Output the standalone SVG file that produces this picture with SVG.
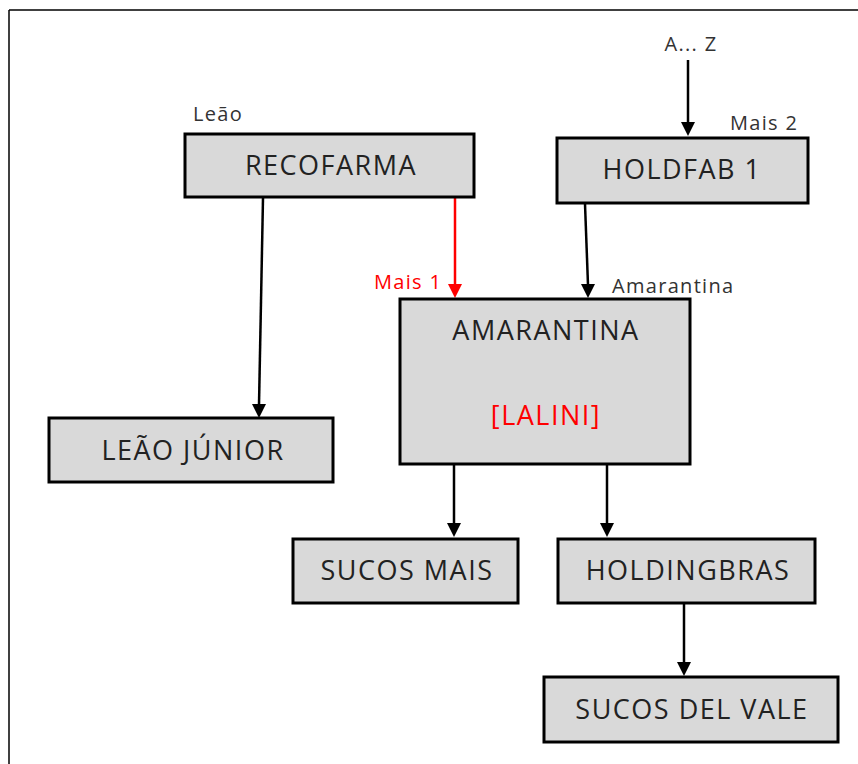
<svg xmlns="http://www.w3.org/2000/svg" width="858" height="764" viewBox="0 0 858 764">
<style>
.box{fill:#d9d9d9;stroke:#000;stroke-width:3}
.t{font-family:"Open Sans","Liberation Sans",sans-serif;font-size:27px;letter-spacing:1.5px;fill:#222;text-anchor:middle}
.lbl{font-family:"Open Sans","Liberation Sans",sans-serif;font-size:20px;letter-spacing:1.3px;fill:#333}
.red{fill:#ff0000}
.c{stroke:#000;stroke-width:2.5;fill:none}
.cr{stroke:#ff0000;stroke-width:2.5;fill:none}
</style>
<g id="frame">
<line x1="9" y1="10" x2="858" y2="10" stroke="#000" stroke-width="1.5"/>
<line x1="9" y1="10" x2="9" y2="764" stroke="#000" stroke-width="1.5"/>
</g>
<g id="connectors">
<path class="c" d="M688,60 L688,123"/>
<path d="M681,122 L695,122 L688,136 Z" fill="#000"/>
<path class="c" d="M263,198 L259,405"/>
<path d="M252,404 L266,404 L259,418 Z" fill="#000"/>
<path class="cr" d="M455,198 L455,285"/>
<path d="M448,284 L462,284 L455,298 Z" fill="#ff0000"/>
<path class="c" d="M585,204 L588,285"/>
<path d="M581,284 L595,284 L588,298 Z" fill="#000"/>
<path class="c" d="M454,463 L454,524"/>
<path d="M447,523 L461,523 L454,537 Z" fill="#000"/>
<path class="c" d="M607,463 L607,524"/>
<path d="M600,523 L614,523 L607,537 Z" fill="#000"/>
<path class="c" d="M684,604 L684,663"/>
<path d="M677,662 L691,662 L684,676 Z" fill="#000"/>
</g>
<g id="recofarma">
<rect class="box" x="185" y="134" width="289" height="63"/>
<text class="t" x="331" y="175">RECOFARMA</text>
</g>
<g id="holdfab1">
<rect class="box" x="557" y="138" width="251" height="65"/>
<text class="t" x="682" y="179">HOLDFAB 1</text>
</g>
<g id="amarantina">
<rect class="box" x="400" y="299" width="290" height="165"/>
<text class="t" x="546" y="340">AMARANTINA</text>
<text class="t red" x="546" y="425">[LALINI]</text>
</g>
<g id="leaojunior">
<rect class="box" x="49" y="418" width="284" height="64"/>
<text class="t" x="193" y="460">LEÃO JÚNIOR</text>
</g>
<g id="sucosmais">
<rect class="box" x="293" y="539" width="225" height="64"/>
<text class="t" x="407" y="580">SUCOS MAIS</text>
</g>
<g id="holdingbras">
<rect class="box" x="558" y="539" width="257" height="64"/>
<text class="t" x="688" y="580">HOLDINGBRAS</text>
</g>
<g id="sucosdelvale">
<rect class="box" x="544" y="677" width="294" height="65"/>
<text class="t" x="692" y="719">SUCOS DEL VALE</text>
</g>
<g id="labels">
<text class="lbl" x="691" y="51" text-anchor="middle">A... Z</text>
<text class="lbl" x="193" y="121">Leão</text>
<text class="lbl" x="730" y="130">Mais 2</text>
<text class="lbl" x="612" y="293">Amarantina</text>
<text class="lbl red" x="374" y="289">Mais 1</text>
</g>
</svg>
